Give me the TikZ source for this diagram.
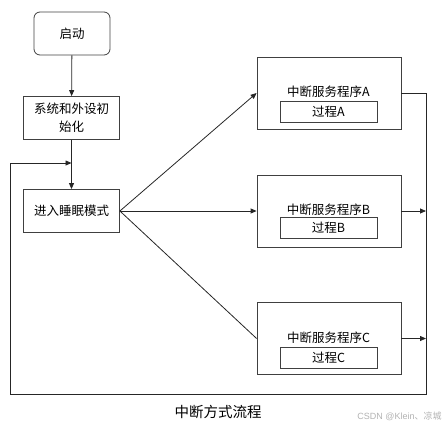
\documentclass[tikz,border=0pt]{standalone}
\usepackage{fontspec}
\setmainfont{Noto Sans CJK SC}
\newfontfamily\wmfont{Liberation Sans}
\usetikzlibrary{arrows.meta}
\begin{document}
\begin{tikzpicture}[x=1pt,y=-1pt,
  line width=0.8pt,
  box/.style={draw=black!75, inner sep=0pt, anchor=center, align=center,
    font=\fontsize{12.5}{18}\selectfont},
  startbox/.style={box, rounded corners=6pt, minimum width=76pt, minimum height=43pt},
  flowbox/.style={box, minimum width=96pt, minimum height=43pt},
  isrbox/.style={box, minimum width=144pt, minimum height=72pt},
  procbox/.style={box, minimum width=97pt, minimum height=21pt},
  isrlabel/.style={inner sep=0pt, anchor=center, font=\fontsize{12.5}{15}\selectfont},
  conn/.style={draw=black!85},
  arr/.style={conn, -{Triangle[length=6pt,width=5pt]}}
]
\useasboundingbox (0,0) rectangle (447,426);
% left column
\node[startbox] (start) at (72,33.5) {启动};
\node[flowbox] (init) at (71.5,118) {系统和外设初\\始化};
\node[flowbox] (sleep) at (71.5,211) {进入睡眠模式};
% ISR boxes
\node[isrbox] (A) at (329,93) {};
\node[isrlabel] (Alab) at (328.5,92) {中断服务程序A};
\node[procbox] (Ap) at (328.5,111.5) {过程A};
\node[isrbox] (B) at (329,211) {};
\node[isrlabel] (Blab) at (328.5,210) {中断服务程序B};
\node[procbox] (Bp) at (328.5,228) {过程B};
\node[isrbox] (C) at (329,338.5) {};
\node[isrlabel] (Clab) at (328.5,338) {中断服务程序C};
\node[procbox] (Cp) at (328.5,357.5) {过程C};
% coordinates for the return bus
\coordinate (busA) at (426,93);
\coordinate (busB) at (426,211);
\coordinate (busC) at (426,338.5);
\coordinate (busBot) at (426,394);
\coordinate (leftBot) at (10,394);
\coordinate (leftTop) at (10,163);
\coordinate (loopIn) at (71.5,163);
% connectors
\draw[arr] (start) -- (init);
\draw[arr] (init) -- (sleep);
\draw[arr] (sleep.east) -- (A.west);
\draw[arr] (sleep.east) -- (B.west);
\draw[conn] (sleep.east) -- (C.west);
\draw[conn] (A.east) -- (busA) -- (busBot) -- (leftBot) -- (leftTop);
\draw[arr] (leftTop) -- (loopIn);
\draw[arr] (B.east) -- (busB);
\draw[arr] (C.east) -- (busC);
% caption
\node[inner sep=0pt, font=\fontsize{14.5}{17}\selectfont] (cap) at (218,412) {中断方式流程};
\node[inner sep=0pt, anchor=west, text=black!30, font=\fontsize{9}{11}\selectfont] (wm) at (357,416) {{\wmfont CSDN @Klein}、凉城};
\end{tikzpicture}
\end{document}
